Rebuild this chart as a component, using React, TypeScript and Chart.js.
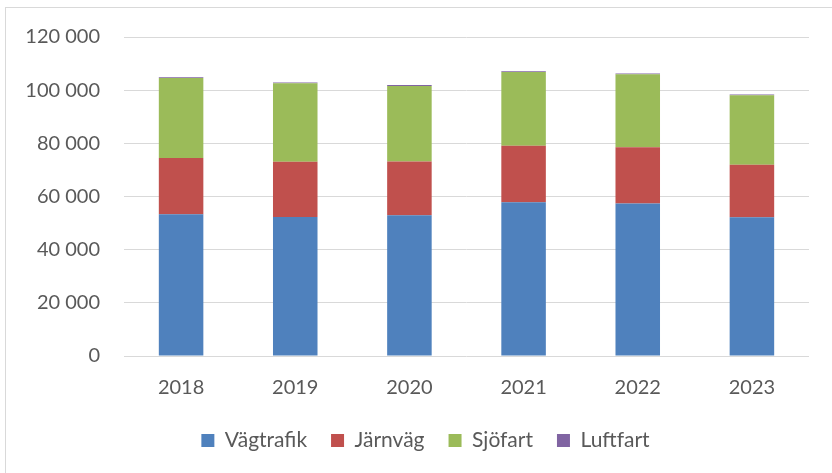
import React, { useEffect, useRef } from "react";
import { Chart, registerables } from "chart.js";

Chart.register(...registerables);

const years = ["2018", "2019", "2020", "2021", "2022", "2023"];
const vagtrafik = [53300, 52300, 52900, 57800, 57400, 52200];
const jarnvag = [21200, 20800, 20300, 21300, 21100, 19700];
const sjofart = [30100, 29500, 28400, 27700, 27500, 26200];
const luftfart = [300, 300, 300, 300, 300, 300];
const yTicks = [0, 20000, 40000, 60000, 80000, 100000, 120000];

const fmt = (v: number) => String(v).replace(/\B(?=(\d{3})+(?!\d))/g, " ");

const legendShift = {
  id: "legendShift",
  afterLayout(chart: any) {
    const lg = chart.legend;
    if (lg) {
      lg.left += 21;
      lg.right += 21;
    }
  },
};

export default function App() {
  const ref = useRef<HTMLCanvasElement | null>(null);
  useEffect(() => {
    if (!ref.current) return;
    const font = { family: "Lato", size: 20 };
    const chart = new Chart(ref.current, {
      type: "bar",
      data: {
        labels: years,
        datasets: [
          { label: "Vägtrafik", data: vagtrafik, backgroundColor: "#4F81BD" },
          { label: "Järnväg", data: jarnvag, backgroundColor: "#C0504D" },
          { label: "Sjöfart", data: sjofart, backgroundColor: "#9BBB59" },
          { label: "Luftfart", data: luftfart, backgroundColor: "#8064A2" },
        ],
      },
      options: {
        animation: false,
        responsive: false,
        devicePixelRatio: 1,
        layout: { padding: { left: 0, right: 23, top: 37, bottom: 12 } },
        datasets: { bar: { barPercentage: 1, categoryPercentage: 0.39 } },
        scales: {
          x: {
            stacked: true,
            grid: { display: false, drawTicks: false },
            border: { display: false },
            ticks: { color: "#595959", font, padding: 20 },
            afterFit: (s: any) => { s.height = 50; },
          },
          y: {
            stacked: true,
            min: 0,
            max: 120000,
            afterBuildTicks: (s: any) => { s.ticks = yTicks.map((v) => ({ value: v })); },
            grid: { color: "#d9d9d9", lineWidth: 1, drawTicks: false },
            border: { display: false },
            ticks: { color: "#595959", font, padding: 24, callback: (v: any) => fmt(Number(v)) },
            afterFit: (s: any) => { s.width = 124; },
          },
        },
        plugins: {
          tooltip: { enabled: false },
          legend: {
            position: "bottom",
            labels: { color: "#595959", font: { family: "Lato", size: 21 }, boxWidth: 13, boxHeight: 13, padding: 24 },
          },
        },
      },
      plugins: [legendShift],
    });
    return () => chart.destroy();
  }, []);
  return (
    <div style={{ position: "absolute", left: 0, top: 0, width: 832, height: 473, background: "#fff", overflow: "hidden" }}>
      <div style={{ position: "absolute", left: 5, top: 7, width: 900, height: 600, borderLeft: "1px solid #d9d9d9", borderTop: "1px solid #d9d9d9" }} />
      <canvas ref={ref} width={832} height={473} style={{ position: "absolute", left: 0, top: 0 }} />
    </div>
  );
}
